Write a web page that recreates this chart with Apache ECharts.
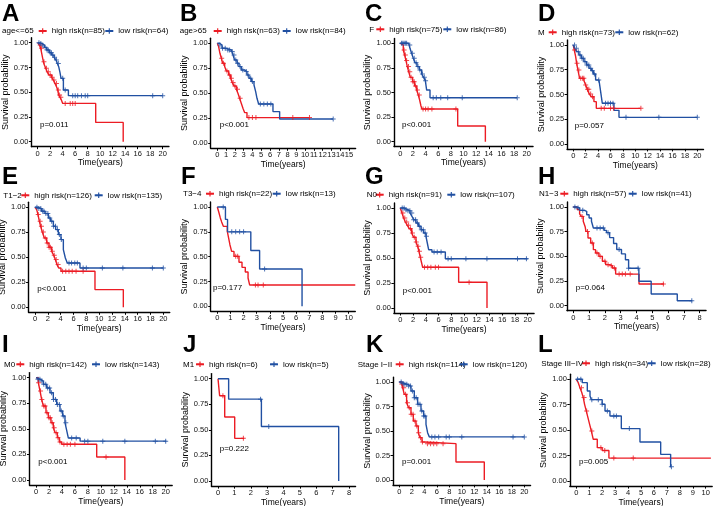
<!DOCTYPE html>
<html><head><meta charset="utf-8">
<script src="https://cdn.jsdelivr.net/npm/echarts@6/dist/echarts.min.js"></script>
<style>html,body{margin:0;padding:0;background:#fff}#c{width:714px;height:506px}</style>
</head><body><div id="c"></div>
<script>
// ---------------- DATA ----------------
const letters = ['A','B','C','D','E','F','G','H','I','J','K','L'];
const strata = ['age<=65','age>65','F','M','T1\u22122','T3\u22124','N0','N1\u22123','M0','M1','Stage I\u2212II','Stage III\u2212IV'];
const highN = [85,63,75,73,126,22,91,57,142,6,114,34];
const lowN  = [64,84,86,62,135,13,107,41,143,5,120,28];
const pvals = ['p=0.011','p<0.001','p<0.001','p=0.057','p<0.001','p=0.177','p<0.001','p=0.064','p<0.001','p=0.222','p=0.001','p=0.005'];
const ticks20 = [0,2,4,6,8,10,12,14,16,18,20];
const ticks15 = [0,1,2,3,4,5,6,7,8,9,10,11,12,13,14,15];
const ticks10 = [0,1,2,3,4,5,6,7,8,9,10];
const ticks8  = [0,1,2,3,4,5,6,7,8];
const yTicks  = [0,0.25,0.5,0.75,1];

// Kaplan-Meier curves: [time, survival]
const highA = [[0,1],[0.27,0.976],[0.48,0.943],[0.64,0.892],[0.8,0.842],[0.91,0.808],[1.07,0.774],[1.28,0.741],[1.49,0.707],[1.81,0.673],[2.24,0.65],[2.51,0.623],[2.77,0.589],[3.04,0.549],[3.2,0.522],[3.36,0.471],[3.57,0.448],[3.79,0.421],[4.0,0.387],[9.28,0.195],[13.68,0]];
const lowA  = [[0,1],[0.27,0.993],[0.64,0.976],[1.07,0.953],[1.44,0.926],[1.87,0.899],[2.24,0.875],[2.61,0.852],[2.93,0.825],[3.15,0.791],[3.36,0.758],[3.57,0.697],[3.73,0.64],[4.11,0.522],[4.91,0.465],[20,0.465]];
const highB = [[0,1],[0.15,0.967],[0.3,0.9],[0.46,0.85],[0.61,0.8],[0.84,0.767],[1.03,0.723],[1.29,0.683],[1.52,0.65],[1.71,0.607],[1.9,0.573],[2.16,0.54],[2.35,0.5],[2.54,0.45],[2.73,0.4],[2.92,0.35],[3.11,0.307],[3.38,0.257],[10.52,0.257]];
const lowB  = [[0,1],[0.27,0.983],[0.53,0.95],[1.03,0.933],[1.6,0.917],[1.79,0.883],[1.97,0.833],[2.24,0.8],[2.47,0.767],[2.73,0.733],[3.11,0.717],[3.38,0.683],[3.61,0.65],[3.87,0.617],[4.18,0.583],[4.37,0.517],[4.52,0.45],[4.71,0.393],[6.34,0.317],[7.1,0.243],[13.18,0.243]];
const highC = [[0,1],[0.26,0.983],[0.47,0.932],[0.69,0.881],[0.9,0.824],[1.11,0.763],[1.32,0.712],[1.58,0.654],[1.95,0.61],[2.27,0.566],[2.59,0.525],[2.85,0.475],[3.06,0.424],[3.27,0.363],[3.43,0.332],[9.08,0.159],[13.46,0]];
const lowC  = [[0,1],[1.32,0.983],[1.53,0.949],[1.79,0.898],[2.06,0.847],[2.32,0.803],[2.64,0.763],[3.01,0.729],[3.38,0.688],[3.69,0.654],[3.96,0.62],[4.17,0.525],[4.7,0.447],[18.47,0.447]];
const highD = [[0,1],[0.16,0.949],[0.38,0.882],[0.54,0.815],[0.75,0.747],[1.02,0.663],[1.72,0.64],[1.99,0.596],[2.26,0.552],[2.58,0.505],[2.9,0.478],[3.33,0.428],[3.71,0.36],[10.86,0.36]];
const lowD  = [[0,1],[0.22,0.966],[0.54,0.933],[0.91,0.899],[1.29,0.865],[1.72,0.832],[2.15,0.798],[2.53,0.764],[2.9,0.741],[3.23,0.707],[3.6,0.646],[4.14,0.63],[4.41,0.529],[4.68,0.411],[6.56,0.34],[7.37,0.269],[20,0.269]];
const highE = [[0,1],[0.26,0.977],[0.47,0.927],[0.68,0.86],[0.88,0.81],[1.14,0.753],[1.45,0.693],[1.82,0.643],[2.18,0.6],[2.6,0.56],[2.91,0.52],[3.17,0.477],[3.43,0.427],[3.69,0.393],[4.05,0.36],[9.35,0.177],[13.77,0]];
const lowE  = [[0,1],[0.52,0.987],[1.04,0.96],[1.56,0.937],[2.08,0.893],[2.44,0.86],[2.86,0.81],[3.22,0.777],[3.64,0.727],[4.05,0.677],[4.42,0.577],[4.73,0.493],[5.04,0.443],[7.01,0.393],[20,0.393]];
const highF = [[0,1],[0.1,0.955],[0.23,0.89],[0.33,0.85],[0.46,0.805],[0.76,0.755],[0.86,0.69],[0.96,0.62],[1.09,0.553],[1.27,0.503],[1.65,0.443],[1.88,0.392],[2.13,0.346],[2.34,0.285],[2.46,0.215],[10.5,0.215]];
const lowF  = [[0,1],[0.62,0.875],[0.78,0.75],[2.55,0.5625],[3.22,0.375],[6.45,0]];
const highG = [[0,1],[0.26,0.95],[0.52,0.9],[0.79,0.86],[1.1,0.827],[1.41,0.793],[1.78,0.75],[2.09,0.707],[2.46,0.66],[2.72,0.617],[2.93,0.567],[3.14,0.507],[3.35,0.45],[3.51,0.407],[9.16,0.257],[13.61,0]];
const lowG  = [[0,1],[0.63,0.983],[1.15,0.973],[1.52,0.95],[1.83,0.917],[2.09,0.883],[2.46,0.85],[2.83,0.817],[3.25,0.783],[3.66,0.75],[4.03,0.717],[4.24,0.65],[4.45,0.583],[4.97,0.56],[7.07,0.493],[20,0.493]];
const highH = [[0,1],[0.25,0.973],[0.4,0.93],[0.5,0.905],[0.63,0.855],[0.75,0.8],[0.8,0.753],[0.93,0.686],[1.1,0.635],[1.27,0.568],[1.41,0.534],[1.62,0.5],[1.84,0.45],[2.05,0.416],[2.3,0.405],[2.47,0.382],[2.68,0.32],[4.16,0.22],[5.74,0.22]];
const lowH  = [[0,1],[0.2,0.99],[0.4,0.966],[0.7,0.956],[0.85,0.922],[1.0,0.888],[1.15,0.855],[1.27,0.787],[1.95,0.763],[2.1,0.74],[2.3,0.69],[2.55,0.63],[2.75,0.57],[3.05,0.525],[3.3,0.466],[3.5,0.38],[4.15,0.247],[4.93,0.118],[6.58,0.05],[7.53,0.05]];
const highI = [[0,1],[0.36,0.951],[0.62,0.87],[0.87,0.788],[1.13,0.723],[1.54,0.658],[1.9,0.609],[2.31,0.56],[2.67,0.511],[2.93,0.463],[3.29,0.414],[3.6,0.371],[3.96,0.35],[9.36,0.225],[13.7,0]];
const lowI  = [[0,1],[0.3,0.985],[0.62,0.967],[1.13,0.935],[1.65,0.9],[2.16,0.853],[2.67,0.788],[3.19,0.739],[3.7,0.674],[4.11,0.625],[4.47,0.56],[4.73,0.485],[4.99,0.41],[6.8,0.38],[20.1,0.38]];
const highJ = [[0,1],[0.1,0.833],[0.41,0.625],[1.02,0.417],[1.6,0.417]];
const lowJ  = [[0,1],[0.65,0.8],[2.65,0.533],[7.37,0]];
const highK = [[0,1],[0.37,0.98],[0.53,0.942],[0.8,0.874],[1.17,0.789],[1.49,0.738],[1.87,0.67],[2.24,0.602],[2.67,0.551],[3.04,0.483],[3.3,0.432],[3.63,0.388],[4.0,0.371],[9.07,0.184],[13.6,0]];
const lowK  = [[0,1],[0.4,0.985],[0.8,0.976],[1.33,0.959],[1.87,0.908],[2.4,0.84],[2.93,0.772],[3.47,0.704],[3.9,0.653],[4.27,0.568],[4.53,0.483],[4.8,0.44],[20,0.44]];
const highL = [[0,1],[0.15,0.967],[0.28,0.918],[0.41,0.875],[0.54,0.82],[0.64,0.754],[0.77,0.689],[0.9,0.623],[1.03,0.557],[1.16,0.492],[1.31,0.41],[1.62,0.328],[2.0,0.3],[2.52,0.225],[10.4,0.225]];
const lowL  = [[0,1],[0.46,0.967],[0.85,0.885],[1.06,0.836],[1.16,0.8],[2.0,0.754],[2.22,0.689],[2.6,0.639],[3.48,0.515],[4.92,0.384],[6.52,0.262],[7.29,0.14],[7.35,0.14]];

// censoring times
const cHighA = [0.4,0.6,1.0,1.4,1.7,2.0,2.3,2.6,3.0,3.3,3.5,3.7,4.4,5.2,5.6,6.0];
const cLowA  = [0.2,0.5,0.8,1.2,1.5,1.7,2.0,2.2,2.4,2.7,3.0,3.3,4.0,4.4,5.6,6.0,6.4,7.0,7.6,8.0,18.4,20.0];
const cHighB = [0.5,0.7,1.1,1.4,1.6,1.8,2.0,2.3,2.6,3.6,4.0,4.4,8.6,10.5];
const cLowB  = [0.3,0.6,0.9,1.2,1.4,1.7,1.9,2.1,2.3,2.6,2.9,3.3,3.5,3.8,4.0,4.9,5.3,5.7,6.1,13.2];
const cHighC = [0.6,0.8,1.0,1.3,1.5,1.7,2.0,2.2,2.4,2.7,3.0,3.6,4.0,4.4,5.0,8.8];
const cLowC  = [0.2,0.4,0.6,0.8,1.0,1.5,1.9,2.2,2.5,2.8,3.1,3.5,3.8,4.0,5.2,5.7,6.4,7.5,9.8,18.5];
const cHighD = [0.2,0.6,0.9,1.2,1.5,1.7,2.0,2.3,2.5,2.8,3.1,4.5,5.0,6.0,6.5,10.9];
const cLowD  = [0.2,0.5,0.8,1.1,1.4,1.6,1.9,2.2,2.5,2.8,3.1,3.4,4.1,5.2,5.6,6.0,6.4,8.5,13.8,20.0];
const cHighE = [0.5,0.8,1.0,1.3,1.6,1.9,2.2,2.4,2.7,3.0,3.3,3.6,4.3,4.8,5.3,5.8,6.4,7.5];
const cLowE  = [0.3,0.6,0.9,1.2,1.4,1.7,2.0,2.3,2.6,2.9,3.2,3.5,3.8,4.1,5.3,5.7,6.2,6.6,7.5,8.0,10.5,13.7,18.3,20.0];
const cHighF = [1.4,1.55,2.9,3.1,3.5];
const cLowF  = [0.45,1.1,1.4,1.7,2.0,3.6];
const cHighG = [0.4,0.7,1.0,1.3,1.6,1.9,2.2,2.5,2.8,3.0,3.2,3.8,4.3,4.8,5.5,6.0,10.8];
const cLowG  = [0.3,0.6,0.9,1.2,1.5,1.8,2.1,2.4,2.7,3.0,3.3,3.6,3.9,4.1,5.3,5.8,6.4,7.5,8.0,10.3,13.6,18.4,19.8];
const cHighH = [0.55,0.9,1.2,1.5,1.7,2.0,2.2,2.4,2.6,2.9,3.1,3.3,3.6,5.7];
const cLowH  = [0.1,0.3,0.6,1.5,1.7,1.9,2.2,2.9,3.5,4.1,7.5];
const cHighI = [0.4,0.7,0.9,1.2,1.4,1.7,2.0,2.2,2.5,2.8,3.1,3.4,3.7,4.3,4.8,5.3,6.0,10.8];
const cLowI  = [0.3,0.6,0.9,1.2,1.5,1.8,2.1,2.4,2.7,3.0,3.3,3.6,3.9,4.2,4.6,5.5,6.2,7.5,8.0,10.3,13.7,18.4,20.0];
const cHighJ = [0.3,1.55];
const cLowJ  = [2.6,3.1];
const cHighK = [0.4,0.7,1.0,1.3,1.6,1.9,2.2,2.5,2.8,3.1,3.4,3.7,4.5,5.0,5.5,6.0,7.0];
const cLowK  = [0.3,0.6,0.9,1.2,1.5,1.8,2.1,2.4,2.7,3.0,3.3,3.6,3.9,4.1,5.2,5.7,6.3,7.5,8.0,10.0,18.2,20.0];
const cHighL = [0.4,0.6,0.8,1.2,1.9,2.2,2.9,4.4];
const cLowL  = [0.1,0.35,1.2,1.7,2.0,2.4,2.9,3.1,4.1,7.35];

const highCurves = [highA,highB,highC,highD,highE,highF,highG,highH,highI,highJ,highK,highL];
const lowCurves  = [lowA,lowB,lowC,lowD,lowE,lowF,lowG,lowH,lowI,lowJ,lowK,lowL];
const highCens   = [cHighA,cHighB,cHighC,cHighD,cHighE,cHighF,cHighG,cHighH,cHighI,cHighJ,cHighK,cHighL];
const lowCens    = [cLowA,cLowB,cLowC,cLowD,cLowE,cLowF,cLowG,cLowH,cLowI,cLowJ,cLowK,cLowL];
const xTicks     = [ticks20,ticks15,ticks20,ticks20,ticks20,ticks10,ticks20,ticks8,ticks20,ticks8,ticks20,ticks10];

// ---------------- LAYOUT (pixels) ----------------
const LAY = [
 {x0:37.7, xT:162.7, y1:42.7, y0:141.7, lx:2,   ly:14,  sx:2,     ry:31,    rt:50.7,  bt:117.3, px:40,    py:125},
 {x0:217.3,xT:349,   y1:43.3, y0:143.3, lx:180, ly:14,  sx:179.7, ry:31,    rt:225.7, bt:294.7, px:219.7, py:125},
 {x0:400.3,xT:526.7, y1:43.3, y0:141.7, lx:365, ly:14,  sx:369.3, ry:29.3,  rt:388.3, bt:455.3, px:402,   py:125},
 {x0:573.3,xT:697.3, y1:45,   y0:144,   lx:538, ly:14,  sx:538,   ry:32.3,  rt:560.7, bt:627.3, px:574.7, py:125.7},
 {x0:35,   xT:163.3, y1:207.3,y0:307.3, lx:2,   ly:177, sx:3.3,   ry:195.3, rt:33.3,  bt:106.7, px:37.3,  py:288.7},
 {x0:217.3,xT:348.7, y1:207,  y0:306.3, lx:181, ly:177, sx:183,   ry:193.7, rt:218,   bt:284.7, px:213,   py:288},
 {x0:400.3,xT:527.7, y1:208,  y0:308,   lx:365, ly:177, sx:366.7, ry:194.7, rt:387.7, bt:459.3, px:402.7, py:290.3},
 {x0:573.3,xT:699.7, y1:207,  y0:305.7, lx:538, ly:177, sx:539,   ry:193.7, rt:572.3, bt:640.7, px:575.7, py:288},
 {x0:36,   xT:165.7, y1:377.7,y0:480,   lx:2,   ly:345, sx:4,     ry:364.3, rt:28.3,  bt:104,   px:38.3,  py:462},
 {x0:218,  xT:349,   y1:378.7,y0:481,   lx:183, ly:345, sx:183,   ry:364.3, rt:208,   bt:282,   px:219.7, py:448.3},
 {x0:399.3,xT:524.3, y1:382,  y0:480,   lx:366, ly:345, sx:357.7, ry:364.3, rt:407.7, bt:471.7, px:402,   py:462},
 {x0:576.3,xT:705.7, y1:379.3,y0:481,   lx:538, ly:345, sx:541.3, ry:363.3, rt:594,   bt:659.7, px:579,   py:462}
];

const RED = '#EC1C24', BLUE = '#2150A2';
const PLUS = 'path://M4,0H6V4H10V6H6V10H4V6H0V4H4Z';
const FONT = '"Liberation Sans", Arial, Helvetica, sans-serif';

function survAt(curve, t) {
  let s = curve[0][1];
  for (const p of curve) { if (p[0] <= t) s = p[1]; else break; }
  return s;
}

const grid = [], xAxis = [], yAxis = [], series = [], legend = [], graphic = [];

function txt(x, y, text, size, opts) {
  opts = opts || {};
  graphic.push({type:'text', x:x, y:y, silent:true, z:10,
    style:{text:text, font:(opts.bold?'bold ':'')+size+'px '+FONT, fill:'#000',
      textAlign:opts.align||'left', align:opts.align||'left',
      textVerticalAlign:'middle', verticalAlign:'middle'}});
}

LAY.forEach((g, i) => {
  const ticks = xTicks[i];
  const T = ticks[ticks.length - 1];
  const span = g.xT - g.x0, vspan = g.y0 - g.y1;
  grid.push({left: g.x0 - 0.05*span, top: g.y1 - 0.05*vspan, width: 1.1*span, height: 1.1*vspan,
             containLabel:false, outerBoundsMode:'none'});
  xAxis.push({gridIndex:i, type:'value', min:-0.05*T, max:1.05*T,
    axisLine:{show:true, onZero:false, lineStyle:{color:'#000', width:1.4}},
    axisTick:{show:true, length:2.5, customValues:ticks, lineStyle:{color:'#000', width:1}},
    axisLabel:{customValues:ticks, fontSize:7.5, color:'#111', margin:3, fontFamily:FONT,
               formatter:(v)=>String(Math.round(v))},
    splitLine:{show:false},
    name:'Time(years)', nameLocation:'middle', nameGap:10.5,
    nameTextStyle:{fontSize:8.5, color:'#000', fontFamily:FONT}});
  yAxis.push({gridIndex:i, type:'value', min:-0.05, max:1.05,
    axisLine:{show:true, onZero:false, lineStyle:{color:'#000', width:1.4}},
    axisTick:{show:true, length:2.5, customValues:yTicks, lineStyle:{color:'#000', width:1}},
    axisLabel:{customValues:yTicks, fontSize:7.5, color:'#111', margin:3, fontFamily:FONT,
               formatter:(v)=>v.toFixed(2)},
    splitLine:{show:false},
    name:'Survival probability', nameLocation:'middle', nameGap:19.5, nameRotate:90,
    nameTextStyle:{fontSize:9, color:'#000', fontFamily:FONT}});

  const hn = 'high risk(n=' + highN[i] + ')', ln = 'low risk(n=' + lowN[i] + ')';
  [[hn, highCurves[i], highCens[i], RED], [ln, lowCurves[i], lowCens[i], BLUE]].forEach(([name, curve, cens, col]) => {
    series.push({type:'line', name:name, xAxisIndex:i, yAxisIndex:i, data:curve, step:'end',
      showSymbol:false, symbol:PLUS, symbolSize:6, silent:true, animation:false,
      lineStyle:{color:col, width:1.4}, itemStyle:{color:col}, z:3});
    series.push({type:'scatter', name:name+' censor', xAxisIndex:i, yAxisIndex:i,
      data:cens.map(t => [t, survAt(curve, t)]), symbol:PLUS, symbolSize:5, silent:true,
      animation:false, itemStyle:{color:col}, z:4});
  });
  [[hn, g.rt], [ln, g.bt]].forEach(([name, tx]) => {
    legend.push({data:[name], left: tx - 13, top: g.ry - 5, orient:'horizontal', padding:0,
      itemWidth:8, itemHeight:7, itemGap:0, selectedMode:false,
      textStyle:{fontSize:8, color:'#000', fontFamily:FONT, lineHeight:10}});
  });

  txt(g.lx, g.ly, letters[i], 24, {bold:true});
  txt(g.sx, g.ry, strata[i], 8);
  txt(g.px, g.py, pvals[i], 8);
});

const chart = echarts.init(document.getElementById('c'), null, {renderer:'canvas', width:714, height:506});
chart.setOption({backgroundColor:'#fff', animation:false, grid, xAxis, yAxis, series, legend, graphic});
</script>
</body></html>
